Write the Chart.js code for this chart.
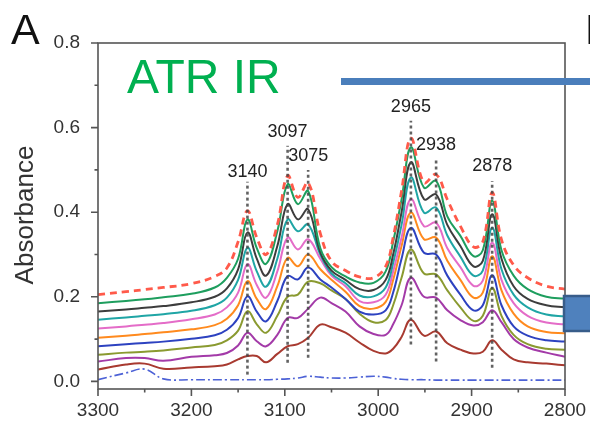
<!DOCTYPE html>
<html>
<head>
<meta charset="utf-8">
<title>ATR IR</title>
<script src="https://cdn.jsdelivr.net/npm/chart.js@4.4.1/dist/chart.umd.min.js"></script>
<style>
  html, body { margin: 0; padding: 0; background: #fff; }
</style>
</head>
<body>
<canvas id="irChart" width="590" height="421"></canvas>
<script>
// wavenumber grid (cm-1), shared by every spectrum
const wavenumbers = [3300, 3270, 3250, 3230, 3200, 3175, 3162, 3150, 3140, 3130, 3120, 3108,
  3097, 3086, 3075, 3062, 3050, 3035, 3020, 3005, 2992, 2984, 2975, 2965,
  2951, 2938, 2926, 2912, 2898, 2888, 2878, 2868, 2855, 2840, 2820, 2800];

// spectra, lowest to highest
const trace1 = [0.028, 0.040, 0.042, 0.030, 0.033, 0.036, 0.040, 0.052, 0.060, 0.060, 0.045, 0.065,
  0.083, 0.088, 0.103, 0.134, 0.128, 0.115, 0.092, 0.072, 0.066, 0.077, 0.105, 0.146,
  0.108, 0.118, 0.090, 0.075, 0.066, 0.070, 0.097, 0.075, 0.052, 0.045, 0.042, 0.038];
const trace2 = [0.047, 0.055, 0.055, 0.049, 0.058, 0.062, 0.067, 0.085, 0.115, 0.095, 0.083, 0.110,
  0.150, 0.150, 0.172, 0.198, 0.185, 0.165, 0.130, 0.112, 0.110, 0.135, 0.180, 0.245,
  0.200, 0.198, 0.168, 0.145, 0.132, 0.140, 0.168, 0.140, 0.100, 0.080, 0.068, 0.058];
const trace3 = [0.063, 0.068, 0.070, 0.073, 0.080, 0.086, 0.097, 0.120, 0.166, 0.135, 0.115, 0.155,
  0.200, 0.205, 0.236, 0.232, 0.215, 0.195, 0.160, 0.140, 0.145, 0.180, 0.245, 0.312,
  0.255, 0.253, 0.215, 0.175, 0.143, 0.155, 0.221, 0.155, 0.110, 0.088, 0.077, 0.075];
const trace4 = [0.083, 0.088, 0.091, 0.094, 0.101, 0.109, 0.122, 0.150, 0.201, 0.165, 0.142, 0.190,
  0.249, 0.241, 0.269, 0.241, 0.222, 0.195, 0.165, 0.158, 0.168, 0.210, 0.290, 0.363,
  0.304, 0.300, 0.250, 0.205, 0.168, 0.180, 0.251, 0.180, 0.130, 0.108, 0.097, 0.094];
const trace5 = [0.103, 0.108, 0.112, 0.116, 0.123, 0.133, 0.148, 0.180, 0.237, 0.195, 0.171, 0.225,
  0.292, 0.272, 0.300, 0.265, 0.240, 0.212, 0.178, 0.172, 0.188, 0.240, 0.320, 0.399,
  0.336, 0.340, 0.285, 0.240, 0.198, 0.210, 0.296, 0.215, 0.160, 0.130, 0.117, 0.114];
const trace6 = [0.125, 0.130, 0.134, 0.138, 0.147, 0.158, 0.175, 0.210, 0.277, 0.228, 0.198, 0.260,
  0.340, 0.312, 0.336, 0.290, 0.250, 0.225, 0.190, 0.187, 0.205, 0.260, 0.340, 0.431,
  0.367, 0.375, 0.315, 0.270, 0.226, 0.238, 0.328, 0.240, 0.185, 0.155, 0.139, 0.135];
const trace7 = [0.146, 0.151, 0.155, 0.159, 0.167, 0.180, 0.198, 0.240, 0.316, 0.260, 0.224, 0.290,
  0.383, 0.355, 0.371, 0.300, 0.255, 0.232, 0.203, 0.201, 0.222, 0.280, 0.370, 0.482,
  0.399, 0.411, 0.345, 0.295, 0.250, 0.262, 0.363, 0.265, 0.205, 0.175, 0.158, 0.154];
const trace8 = [0.165, 0.170, 0.174, 0.178, 0.187, 0.200, 0.220, 0.265, 0.352, 0.290, 0.250, 0.320,
  0.419, 0.383, 0.407, 0.305, 0.262, 0.240, 0.218, 0.216, 0.240, 0.300, 0.400, 0.518,
  0.431, 0.442, 0.370, 0.320, 0.272, 0.285, 0.395, 0.290, 0.225, 0.195, 0.180, 0.175];
const trace9 = [0.185, 0.190, 0.194, 0.199, 0.207, 0.222, 0.245, 0.290, 0.383, 0.315, 0.278, 0.355,
  0.466, 0.419, 0.450, 0.315, 0.270, 0.248, 0.234, 0.233, 0.260, 0.330, 0.430, 0.553,
  0.458, 0.474, 0.390, 0.344, 0.296, 0.310, 0.427, 0.310, 0.250, 0.218, 0.200, 0.196];
const traceTop = [0.205, 0.212, 0.217, 0.222, 0.231, 0.248, 0.268, 0.330, 0.403, 0.340, 0.300, 0.370,
  0.486, 0.435, 0.470, 0.350, 0.284, 0.262, 0.247, 0.245, 0.272, 0.340, 0.450, 0.575,
  0.470, 0.489, 0.430, 0.367, 0.318, 0.330, 0.446, 0.335, 0.275, 0.245, 0.225, 0.218];
const blank = [0.004, 0.020, 0.029, 0.006, 0.004, 0.004, 0.004, 0.004, 0.004, 0.004, 0.004, 0.005,
  0.006, 0.008, 0.012, 0.010, 0.008, 0.008, 0.010, 0.012, 0.010, 0.007, 0.005, 0.004,
  0.004, 0.003, 0.003, 0.003, 0.003, 0.003, 0.003, 0.003, 0.003, 0.003, 0.003, 0.003];

// marked bands: position, dotted line span, label height
const peakWavenumbers = [3140, 3097, 3075, 2965, 2938, 2878];
const peakLineTop = [0.472, 0.557, 0.500, 0.616, 0.526, 0.474];
const peakLineBottom = [0.016, 0.044, 0.056, 0.087, 0.047, 0.032];
const peakLabelY = [0.495, 0.589, 0.533, 0.649, 0.559, 0.509];

// axis ticks
const xTicks = [3300, 3200, 3100, 3000, 2900, 2800];
const xMinorTicks = [3250, 3150, 3050, 2950, 2850];
const yTicks = [0.0, 0.2, 0.4, 0.6, 0.8];
const yMinorTicks = [0.1, 0.3, 0.5, 0.7];

const FONT = '"Liberation Sans", Arial, sans-serif';

function toPoints(values) {
  return values.map((v, i) => ({ x: wavenumbers[i], y: v }));
}

function spectrum(values, color, extra) {
  return Object.assign({
    data: toPoints(values),
    borderColor: color,
    borderWidth: 2,
    pointRadius: 0,
    fill: false,
    tension: 0.4
  }, extra || {});
}

const datasets = [];

// dotted markers go on top
peakWavenumbers.forEach((w, i) => {
  datasets.push({
    data: [{ x: w, y: peakLineBottom[i] }, { x: w, y: peakLineTop[i] }],
    borderColor: 'rgba(70,70,70,0.85)',
    borderWidth: 2.6,
    borderDash: [3, 3],
    pointRadius: 0,
    order: -1
  });
});

datasets.push(
  spectrum(traceTop, '#ff5a4a', { borderWidth: 2.8, borderDash: [7, 5] }),
  spectrum(trace9, '#1e9e5e'),
  spectrum(trace8, '#3d3d3d'),
  spectrum(trace7, '#1fa5a5'),
  spectrum(trace6, '#e46cc8'),
  spectrum(trace5, '#ff8a1e'),
  spectrum(trace4, '#2d42c0'),
  spectrum(trace3, '#8a9a30'),
  spectrum(trace2, '#a33aa8'),
  spectrum(trace1, '#a83a30'),
  spectrum(blank, '#4d62d6', { borderWidth: 1.6, borderDash: [9, 3, 2, 3] })
);

// frame, tick marks, band labels and panel text
const decor = {
  id: 'decor',
  afterDraw(chart) {
    const ctx = chart.ctx;
    const area = chart.chartArea;
    const xs = chart.scales.x;
    const ys = chart.scales.y;
    ctx.save();

    ctx.strokeStyle = '#555';
    ctx.lineWidth = 1.6;
    ctx.strokeRect(area.left, area.top, area.right - area.left, area.bottom - area.top);

    ctx.beginPath();
    yTicks.forEach(v => {
      const y = ys.getPixelForValue(v);
      ctx.moveTo(area.left, y); ctx.lineTo(area.left - 7, y);
    });
    yMinorTicks.forEach(v => {
      const y = ys.getPixelForValue(v);
      ctx.moveTo(area.left, y); ctx.lineTo(area.left - 3.5, y);
    });
    xTicks.forEach(v => {
      const x = xs.getPixelForValue(v);
      ctx.moveTo(x, area.bottom); ctx.lineTo(x, area.bottom + 7);
    });
    xMinorTicks.forEach(v => {
      const x = xs.getPixelForValue(v);
      ctx.moveTo(x, area.bottom); ctx.lineTo(x, area.bottom + 3.5);
    });
    ctx.stroke();

    ctx.fillStyle = '#222';
    ctx.font = '18px ' + FONT;
    ctx.textAlign = 'center';
    ctx.textBaseline = 'middle';
    peakWavenumbers.forEach((w, i) => {
      ctx.fillText(String(w), xs.getPixelForValue(w), ys.getPixelForValue(peakLabelY[i]));
    });

    // y axis title
    ctx.save();
    ctx.translate(33, 215);
    ctx.rotate(-Math.PI / 2);
    ctx.textBaseline = 'alphabetic';
    ctx.fillStyle = '#333';
    ctx.font = '26px ' + FONT;
    ctx.fillText('Absorbance', 0, 0);
    ctx.restore();

    ctx.textAlign = 'left';
    ctx.textBaseline = 'alphabetic';
    ctx.fillStyle = '#111';
    ctx.font = '43px ' + FONT;
    ctx.fillText('A', 11, 44);
    ctx.fillText('B', 585, 44);

    ctx.fillStyle = '#00b050';
    ctx.font = '48px ' + FONT;
    ctx.fillText('ATR IR', 127, 93);

    ctx.fillStyle = '#4a7ebb';
    ctx.fillRect(341, 78, 249, 7);

    ctx.fillStyle = '#4f81bd';
    ctx.fillRect(564, 296, 30, 35);
    ctx.strokeStyle = '#385d8a';
    ctx.lineWidth = 2.5;
    ctx.strokeRect(564, 296, 30, 35);

    ctx.restore();
  }
};

new Chart(document.getElementById('irChart'), {
  type: 'line',
  data: { datasets: datasets },
  options: {
    responsive: false,
    animation: false,
    devicePixelRatio: 1,
    layout: { padding: { top: 43, right: 25, left: 0, bottom: 0 } },
    plugins: { legend: { display: false }, tooltip: { enabled: false } },
    scales: {
      x: {
        type: 'linear',
        reverse: true,
        min: 2800,
        max: 3300,
        grid: { display: false },
        border: { display: false },
        afterBuildTicks: scale => { scale.ticks = xTicks.map(v => ({ value: v })); },
        afterFit: scale => { scale.height = 32; },
        ticks: {
          padding: 2,
          color: '#333',
          maxRotation: 0,
          font: { family: FONT, size: 19 },
          callback: v => String(v)
        }
      },
      y: {
        min: -0.018,
        max: 0.8,
        grid: { display: false },
        border: { display: false },
        afterBuildTicks: scale => { scale.ticks = yTicks.map(v => ({ value: v })); },
        afterFit: scale => { scale.width = 98; },
        ticks: {
          padding: 10,
          color: '#333',
          font: { family: FONT, size: 19 },
          callback: v => v.toFixed(1)
        }
      }
    }
  },
  plugins: [decor]
});
</script>
</body>
</html>
